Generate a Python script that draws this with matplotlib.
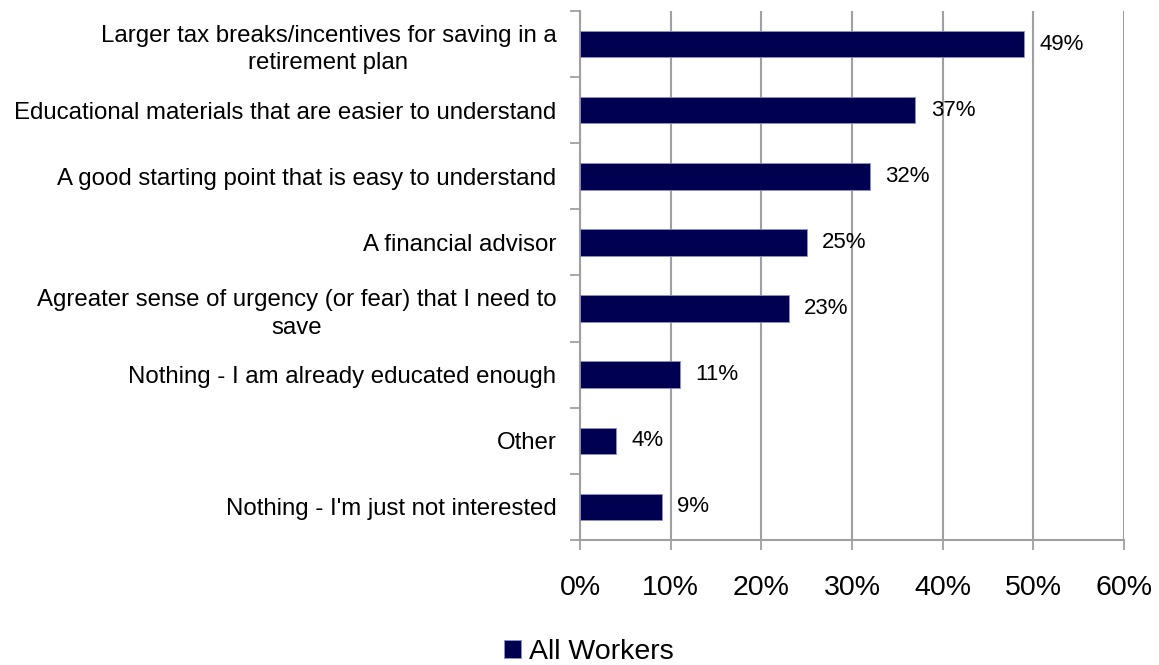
import matplotlib.pyplot as plt
from matplotlib.ticker import FuncFormatter, FixedLocator

categories = [
    "Larger tax breaks/incentives for saving in a\nretirement plan",
    "Educational materials that are easier to understand",
    "A good starting point that is easy to understand",
    "A financial advisor",
    "Agreater sense of urgency (or fear) that I need to\nsave",
    "Nothing - I am already educated enough",
    "Other",
    "Nothing - I'm just not interested",
]
values = [49, 37, 32, 25, 23, 11, 4, 9]
series_name = "All Workers"
x_ticks = [0, 10, 20, 30, 40, 50, 60]

plt.rcParams['font.family'] = ['Liberation Sans', 'DejaVu Sans']

fig = plt.figure(figsize=(11.59, 6.65), dpi=100)
ax = fig.add_axes([0.5004, 0.188, 0.4694, 0.7955])

grid_color = '#a0a0a0'
pos = list(range(len(categories)))
bars = ax.barh(pos, values, height=0.4, color='#000050', edgecolor='#9090c8',
               linewidth=0.6, label=series_name, zorder=3)

for y, v in zip(pos, values):
    ax.text(v + 1.7, y, f"{v}%", va='center', ha='left', fontsize=16, zorder=4)

ax.set_xlim(0, 60)
ax.set_ylim(len(categories) - 0.5, -0.5)
ax.xaxis.set_major_locator(FixedLocator(x_ticks))
ax.xaxis.set_major_formatter(FuncFormatter(lambda v, p: f"{v:.0f}%"))
ax.set_yticks(pos)
ax.set_yticklabels(categories, fontsize=17.3, multialignment='center',
                   linespacing=1.35)
ax.tick_params(axis='y', length=0, pad=17)
ax.set_yticks([p - 0.5 for p in pos] + [len(categories) - 0.5], minor=True)
ax.tick_params(axis='y', which='minor', length=7, width=1.3, color=grid_color)
ax.tick_params(axis='x', length=7, width=1.3, color=grid_color, labelsize=20.5, pad=18)

ax.grid(axis='x', color=grid_color, linewidth=1.5, zorder=0)
for side in ('top', 'right'):
    ax.spines[side].set_visible(False)
for side in ('left', 'bottom'):
    ax.spines[side].set_color(grid_color)
    ax.spines[side].set_linewidth(1.5)

fig.legend(handles=[bars], labels=[series_name], loc='center',
           bbox_to_anchor=(0.508, 0.02), frameon=False, fontsize=20.5,
           handlelength=0.6, handleheight=0.6, handletextpad=0.3,
           borderpad=0)

fig.savefig('out.png', dpi=100)
